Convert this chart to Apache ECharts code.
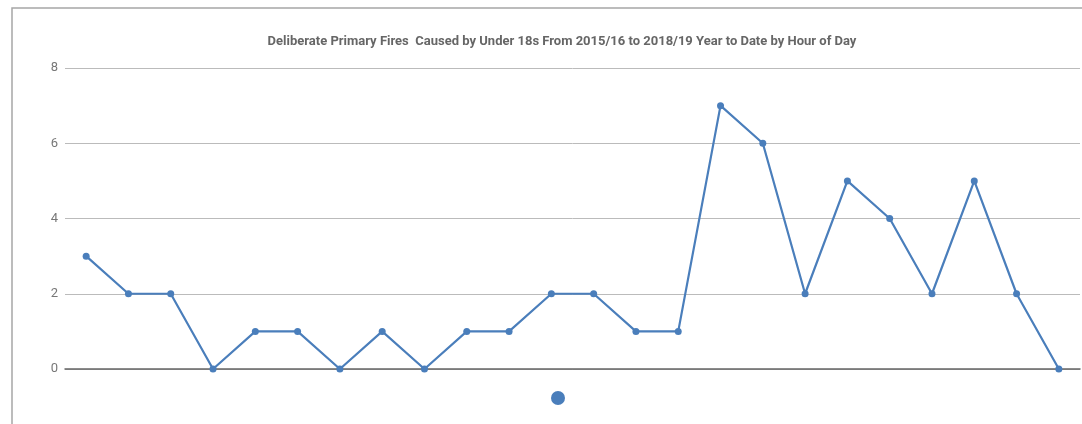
<!DOCTYPE html>
<html><head><meta charset="utf-8">
<script src="https://cdn.jsdelivr.net/npm/echarts@6/dist/echarts.min.js"></script>
<style>html,body{margin:0;padding:0;background:#fff}#c{width:1082px;height:424px}</style>
</head><body><div id="c"></div>
<script>
const titleText = 'Deliberate Primary Fires  Caused by Under 18s From 2015/16 to 2018/19 Year to Date by Hour of Day';
const hours = ['0','1','2','3','4','5','6','7','8','9','10','11','12','13','14','15','16','17','18','19','20','21','22','23'];
const fires = [3,2,2,0,1,1,0,1,0,1,1,2,2,1,1,7,6,2,5,4,2,5,2,0];
const yTicks = {min:0, max:8, interval:2};

const chart = echarts.init(document.getElementById('c'));
chart.setOption({
  animation:false,
  graphic:[{type:'rect',shape:{x:12,y:8,width:1200,height:500},style:{fill:'none',stroke:'#a6a6a6',lineWidth:1.5},silent:true,z:-1}],
  title:{text:titleText,left:557,top:30,textAlign:'center',textStyle:{fontFamily:'Roboto',fontSize:13,fontWeight:'bold',color:'#666'}},
  legend:{data:[{name:' ',icon:'circle'}],left:546,top:386,itemWidth:14,itemHeight:14,itemGap:0,textStyle:{fontSize:1}},
  grid:{left:65,right:2,top:68,bottom:55},
  xAxis:{type:'category',data:hours,boundaryGap:true,axisLabel:{show:false},axisTick:{show:false},axisLine:{show:true,lineStyle:{color:'#666',width:1.5}}},
  yAxis:{type:'value',min:yTicks.min,max:yTicks.max,interval:yTicks.interval,axisLine:{show:false},axisTick:{show:false},
    axisLabel:{margin:7,fontFamily:'Roboto',fontSize:13,color:'#777'},splitLine:{lineStyle:{color:'#bbb',width:1}}},
  series:[{name:' ',type:'line',data:fires,symbol:'circle',symbolSize:7,lineStyle:{width:2.2,color:'#4a7ebb'},itemStyle:{color:'#4a7ebb'}}]
});
</script></body></html>
